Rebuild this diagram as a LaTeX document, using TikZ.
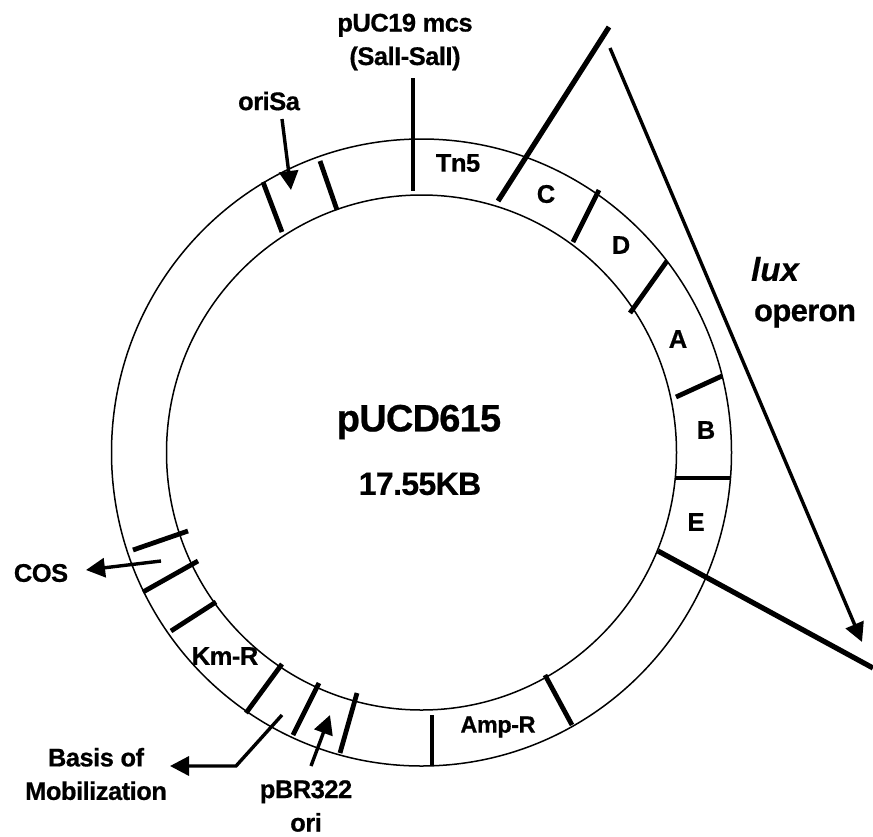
\documentclass[tikz,border=0pt]{standalone}
\usepackage{fontspec}
\setmainfont{Liberation Sans}[BoldFeatures={LetterSpace=-2,FakeBold=0.6},BoldItalicFeatures={FakeBold=0.3}]
\usetikzlibrary{arrows.meta}
\tikzset{
 ringline/.style={line width=1.5pt,black},
 tick/.style={line width=4.8pt,black},
 heavy/.style={line width=5.2pt,black},
 arrowline/.style={line width=3.4pt,black,-{Triangle[length=19pt,width=19pt]}},
 lab/.style={font=\fontsize{25.5}{33.5}\selectfont\bfseries,align=center,inner sep=0pt},
 slab/.style={font=\fontsize{23.5}{28}\selectfont\bfseries,align=center,inner sep=0pt}
}
\begin{document}
\begin{tikzpicture}[x=1pt,y=-1pt]
\useasboundingbox (0,0) rectangle (873,836);
\coordinate (c) at (421.5,452.5);
\draw[ringline] (c) ellipse [x radius=310,y radius=313.5];
\draw[ringline] (c) ellipse [x radius=255,y radius=257.5];
% ring dividers
\foreach \n/\ax/\ay/\bx/\by in {a/263/182/282/232, b/320/161/337/210, c/599/190/573/242, d/667/261/630/313, e/722/376/676/397, f/731/478/676/478, g/545/675/572/725, h/432/715/432/765, i/357/693/340/753, j/319/683/293/735, k/282/664/246/713, l/216/602/171/631, m/198/561/143/592, n/188/531/133/550}{
  \coordinate (t\n1) at (\ax,\ay);
  \coordinate (t\n2) at (\bx,\by);
  \draw[tick] (t\n1) -- (t\n2);
}
% lux operon
\coordinate (luxa) at (609,27);
\coordinate (luxb) at (498,201);
\coordinate (luxc) at (658,551);
\coordinate (luxd) at (873,668);
\coordinate (luxs) at (610,48);
\coordinate (luxt) at (862,642);
\draw[heavy] (luxa) -- (luxb);
\draw[heavy] (luxc) -- (luxd);
\draw[arrowline] (luxs) -- (luxt);
% pUC19 line
\coordinate (puca) at (413,78);
\coordinate (pucb) at (413,191);
\draw[tick] (puca) -- (pucb);
% arrows
\coordinate (oria) at (282,119);
\coordinate (orib) at (291,190);
\draw[arrowline] (oria) -- (orib);
\coordinate (cosa) at (161,561);
\coordinate (cosb) at (86,570);
\draw[arrowline] (cosa) -- (cosb);
\coordinate (basa) at (282,715);
\coordinate (basb) at (236,766);
\coordinate (basc) at (170,766);
\draw[arrowline] (basa) -- (basb) -- (basc);
\coordinate (bra) at (311,766);
\coordinate (brb) at (330,715);
\draw[arrowline] (bra) -- (brb);
% labels
\node[lab] (puc) at (405,42) {pUC19 mcs\\(SalI-SalI)};
\node[lab] (orisa) at (269,101) {oriSa};
\node[lab] (tn) at (458,163) {Tn5};
\node[lab] (lc) at (546,194) {C};
\node[lab] (ld) at (621,245) {D};
\node[lab] (la) at (678,339) {A};
\node[lab] (lb) at (706,430) {B};
\node[lab] (le) at (696,522) {E};
\node[font=\fontsize{33}{38}\selectfont\itshape\bfseries,inner sep=0pt] (lux) at (775,269) {lux};
\node[font=\fontsize{31}{34}\selectfont\bfseries,inner sep=0pt] (op) at (805,316) {operon};
\node[font=\fontsize{38}{42}\selectfont\bfseries,inner sep=0pt] (name) at (419,422) {pUCD615};
\node[font=\fontsize{32}{36}\selectfont\bfseries,inner sep=0pt] (size) at (420,484) {17.55KB};
\node[lab] (cos) at (41,573) {COS};
\node[lab] (km) at (225,656) {Km-R};
\node[slab] (amp) at (498,727) {Amp-R};
\node[lab] (bas) at (96,774) {Basis of\\Mobilization};
\node[lab] (br) at (306,806) {pBR322\\ori};
\end{tikzpicture}
\end{document}
